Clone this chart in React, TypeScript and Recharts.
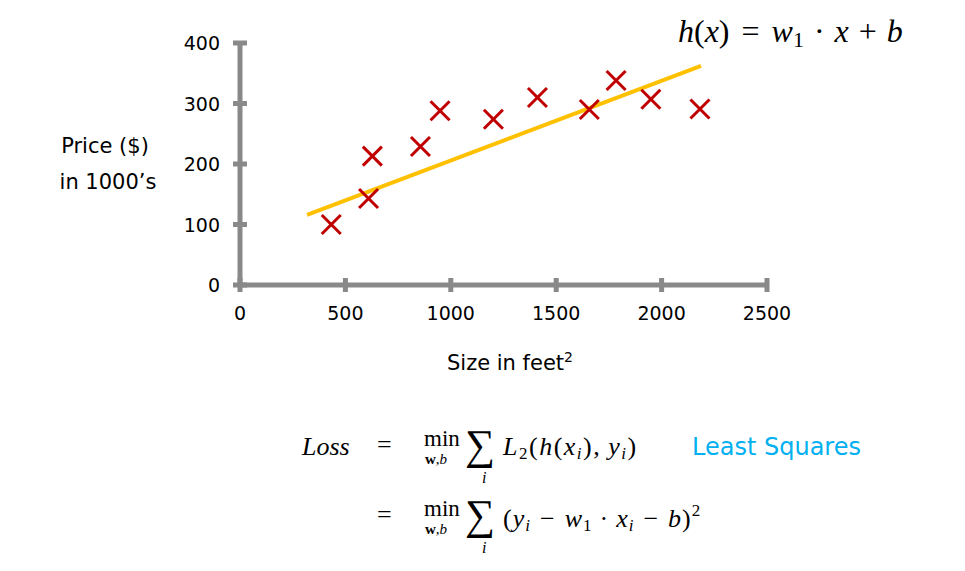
import { ComposedChart, Scatter, XAxis, YAxis } from "recharts";

// house sizes (feet^2) and prices ($1000s)
const sizes = [433, 610, 628, 856, 949, 1202, 1411, 1657, 1784, 1949, 2182];
const prices = [100, 143, 213, 229, 288, 274, 310, 290, 338, 307, 291];

// ends of the fitted line h(x)
const fitSizes = [318, 2187];
const fitPrices = [116, 362];

const xTicks = [0, 500, 1000, 1500, 2000, 2500];
const yTicks = [0, 100, 200, 300, 400];

const points = sizes.map((s, i) => ({ size: s, price: prices[i] }));
const fit = fitSizes.map((s, i) => ({ size: s, price: fitPrices[i] }));

const AXIS = "#898989";
const SANS = "'DejaVu Sans', sans-serif";
const SERIF = "'Liberation Serif', 'DejaVu Serif', serif";

const Cross = (props: any) => {
  const { cx, cy } = props;
  const r = 9.5;
  return (
    <g stroke="#C00000" strokeWidth={3}>
      <line x1={cx - r} y1={cy - r} x2={cx + r} y2={cy + r} />
      <line x1={cx - r} y1={cy + r} x2={cx + r} y2={cy - r} />
    </g>
  );
};

const XTick = (props: any) => {
  const { x, y, payload } = props;
  return (
    <g>
      <line x1={x} y1={y - 7} x2={x} y2={y + 7} stroke={AXIS} strokeWidth={5} />
      <text x={x} y={y + 28} textAnchor="middle" dominantBaseline="central" fontFamily={SANS} fontSize={19} fill="#000">
        {payload.value}
      </text>
    </g>
  );
};

const YTick = (props: any) => {
  const { x, y, payload } = props;
  return (
    <g>
      <line x1={x - 7} y1={y} x2={x + 7} y2={y} stroke={AXIS} strokeWidth={5} />
      <text x={x - 20} y={y} textAnchor="end" dominantBaseline="central" fontFamily={SANS} fontSize={19} fill="#000">
        {payload.value}
      </text>
    </g>
  );
};

const Nothing = () => null;

const abs = (left: number, top: number, extra: any = {}) => ({
  position: "absolute" as const,
  left,
  top,
  whiteSpace: "nowrap" as const,
  lineHeight: 1,
  ...extra,
});

const Op = ({ c, w = 8 }: { c: string; w?: number }) => <span style={{ margin: `0 ${w}px` }}>{c}</span>;
const Sub = ({ children }: any) => <sub style={{ fontSize: 17, verticalAlign: -4 }}>{children}</sub>;

export default function App() {
  return (
    <div style={{ position: "absolute", left: 0, top: 0, width: 965, height: 571, background: "#fff", overflow: "hidden" }}>
      <ComposedChart width={965} height={571} margin={{ top: 43, right: 198, bottom: 246, left: 180 }}>
        <XAxis
          type="number"
          dataKey="size"
          domain={[0, 2500]}
          ticks={xTicks}
          height={40}
          tickSize={0}
          tickMargin={0}
          tickLine={false}
          axisLine={{ stroke: AXIS, strokeWidth: 5 }}
          tick={<XTick />}
        />
        <YAxis
          type="number"
          dataKey="price"
          domain={[0, 400]}
          ticks={yTicks}
          width={60}
          tickSize={0}
          tickMargin={0}
          tickLine={false}
          axisLine={{ stroke: AXIS, strokeWidth: 5 }}
          tick={<YTick />}
        />
        <Scatter data={fit} line={{ stroke: "#FFC000", strokeWidth: 4 }} shape={<Nothing />} isAnimationActive={false} />
        <Scatter data={points} shape={<Cross />} isAnimationActive={false} />
      </ComposedChart>

      <div style={abs(45, 136, { fontFamily: SANS, fontSize: 21, textAlign: "center", width: 120 })}>Price ($)</div>
      <div style={abs(43, 172, { fontFamily: SANS, fontSize: 21, textAlign: "center", width: 130 })}>in 1000’s</div>
      <div style={abs(447, 350, { fontFamily: SANS, fontSize: 21 })}>
        Size in feet<sup style={{ fontSize: 14, verticalAlign: 8 }}>2</sup>
      </div>

      <div style={abs(678, 15, { fontFamily: SERIF, fontSize: 32 })}>
        <i>h</i>(<i>x</i>)<Op c="=" w={12} />
        <i>w</i>
        <sub style={{ fontSize: 22, verticalAlign: -5 }}>1</sub>
        <Op c="·" w={10} />
        <i>x</i>
        <Op c="+" w={10} />
        <i>b</i>
      </div>

      <div style={abs(302, 434, { fontFamily: SERIF, fontSize: 26 })}>
        <i>Loss</i>
      </div>
      <div style={abs(377, 432, { fontFamily: SERIF, fontSize: 26 })}>=</div>
      <div style={abs(424, 427, { fontFamily: SERIF, fontSize: 23 })}>min</div>
      <div style={abs(425, 452, { fontFamily: SERIF, fontSize: 15, fontWeight: "bold" })}>
        w<span style={{ fontWeight: "normal" }}>,</span>
        <i style={{ fontWeight: "normal" }}>b</i>
      </div>
      <div style={abs(465, 424, { fontFamily: SERIF, fontSize: 42 })}>∑</div>
      <div style={abs(482, 470, { fontFamily: SERIF, fontSize: 16 })}>
        <i>i</i>
      </div>
      <div style={abs(503, 434, { fontFamily: SERIF, fontSize: 26, letterSpacing: 1.5 })}>
        <i>L</i>
        <Sub>2</Sub>(<i>h</i>(<i>x</i>
        <Sub>
          <i>i</i>
        </Sub>
        ),<span style={{ marginLeft: 7 }} />
        <i>y</i>
        <Sub>
          <i>i</i>
        </Sub>
        )
      </div>
      <div style={abs(692, 435, { fontFamily: SANS, fontSize: 24, color: "#00B0F0" })}>Least Squares</div>

      <div style={abs(377, 502, { fontFamily: SERIF, fontSize: 26 })}>=</div>
      <div style={abs(424, 497, { fontFamily: SERIF, fontSize: 23 })}>min</div>
      <div style={abs(425, 522, { fontFamily: SERIF, fontSize: 15, fontWeight: "bold" })}>
        w<span style={{ fontWeight: "normal" }}>,</span>
        <i style={{ fontWeight: "normal" }}>b</i>
      </div>
      <div style={abs(465, 494, { fontFamily: SERIF, fontSize: 42 })}>∑</div>
      <div style={abs(482, 540, { fontFamily: SERIF, fontSize: 16 })}>
        <i>i</i>
      </div>
      <div style={abs(503, 502, { fontFamily: SERIF, fontSize: 26, letterSpacing: 1 })}>
        (<i>y</i>
        <Sub>
          <i>i</i>
        </Sub>
        <Op c="−" w={9} />
        <i>w</i>
        <Sub>1</Sub>
        <Op c="·" w={7} />
        <i>x</i>
        <Sub>
          <i>i</i>
        </Sub>
        <Op c="−" w={9} />
        <i>b</i>)<sup style={{ fontSize: 17, verticalAlign: 11 }}>2</sup>
      </div>
    </div>
  );
}
